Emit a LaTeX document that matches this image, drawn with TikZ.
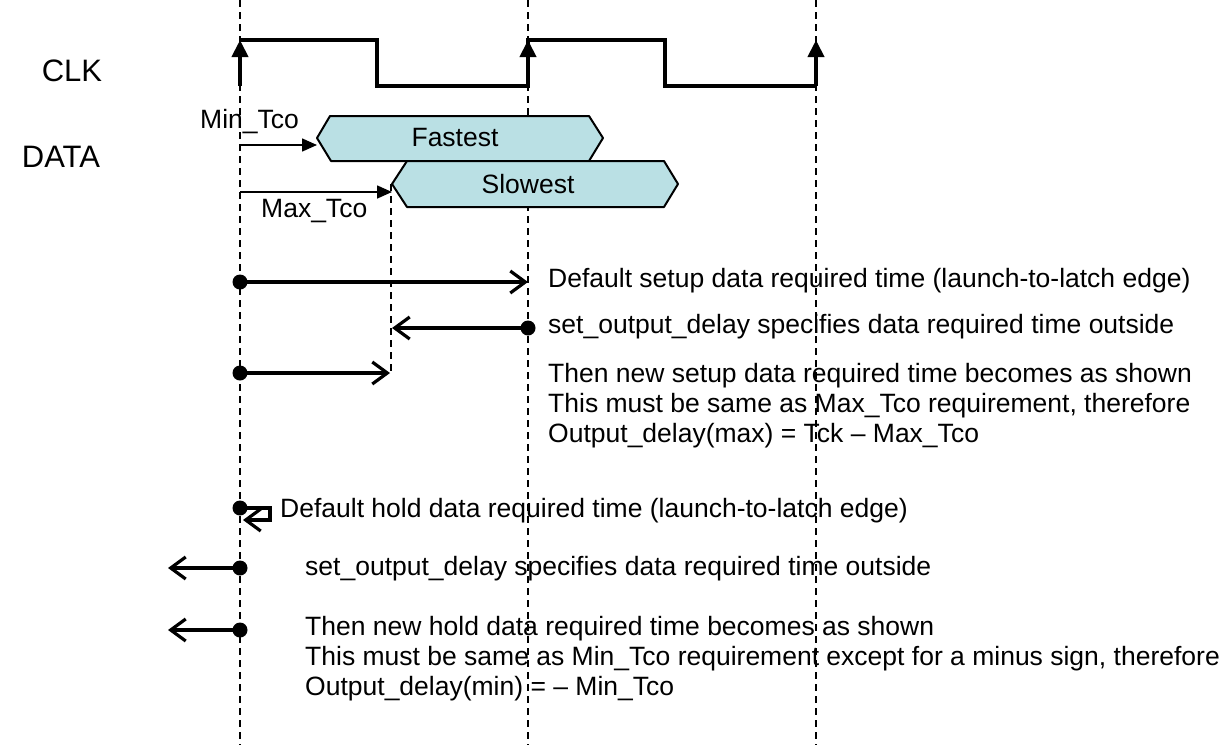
\documentclass[tikz,border=0pt]{standalone}
\usepackage{fontspec}
\setmainfont{Liberation Sans}
\usetikzlibrary{arrows.meta}

\definecolor{hexfill}{RGB}{186,224,228}

\begin{document}
\begin{tikzpicture}[x=1pt,y=-1pt,
  txt/.style={inner sep=0pt,font=\fontsize{26.5}{30}\selectfont},
  big/.style={inner sep=0pt,font=\fontsize{31}{36}\selectfont},
  guide/.style={line width=1.5pt,dash pattern=on 7pt off 5pt},
  clk/.style={line width=4pt},
  edge/.style={line width=4pt,-{Triangle[length=17pt,width=16pt]}},
  tco/.style={line width=1.6pt,-{Triangle[length=15pt,width=13pt]}},
  req/.style={line width=3.2pt,-{Straight Barb[length=15pt,width=22pt]}},
  dot/.style={circle,fill,inner sep=0pt,minimum size=15pt},
  hexa/.style={draw,fill=hexfill,line width=2pt,line join=round}]

\useasboundingbox (0,0) rectangle (1232,745);

% time grid
\draw[guide] (240,0) -- (240,745);
\draw[guide] (528,0) -- (528,745);
\draw[guide] (816,0) -- (816,745);
\draw[guide] (391,184) -- (391,373);

\node (clk) at (72,71) [big] {CLK};
\node (data) at (61,157) [big] {DATA};

\draw[clk] (240,40) -- (377,40) -- (377,86) -- (528,86) -- (528,40)
   -- (665,40) -- (665,86) -- (816,86);
\draw[edge] (240,86) -- (240,40);
\draw[edge] (528,86) -- (528,40);
\draw[edge] (816,86) -- (816,40);

\draw[hexa] (317,138) -- (330,116) -- (589,116) -- (603,138) -- (589,161) -- (331,161) -- cycle;
\draw[hexa] (392,184) -- (407,161) -- (664,161) -- (678,184) -- (664,207) -- (407,207) -- cycle;
\node (fast) at (455,138) [txt] {Fastest};
\node (slow) at (528,184) [txt] {Slowest};

\coordinate (minA) at (240,145);
\coordinate (minB) at (317,145);
\coordinate (maxA) at (240,192);
\coordinate (maxB) at (392,192);
\draw[tco] (minA) -- (minB);
\draw[tco] (maxA) -- (maxB);
\node (minl) at (200,122) [txt,anchor=west] {Min\_Tco};
\node (maxl) at (261,211) [txt,anchor=west] {Max\_Tco};

% setup
\node (s1) at (240,282) [dot] {};
\node (s2) at (528,328) [dot] {};
\node (s3) at (240,373) [dot] {};
\coordinate (s1e) at (528,282);
\coordinate (s2e) at (392,328);
\coordinate (s3e) at (390,373);
\draw[req] (s1.center) -- (s1e);
\draw[req] (s2.center) -- (s2e);
\draw[req] (s3.center) -- (s3e);

\node (setA) at (548,281) [txt,anchor=west] {Default setup data required time (launch-to-latch edge)};
\node (setB) at (548,327) [txt,anchor=west] {set\_output\_delay specifies data required time outside};
\node (setC) at (548,406) [txt,anchor=west,align=left] {Then new setup data required time becomes as shown\\
  This must be same as Max\_Tco requirement, therefore\\
  Output\_delay(max) = Tck – Max\_Tco};

% hold
\node (h1) at (240,508) [dot] {};
\node (h2) at (240,568) [dot] {};
\node (h3) at (240,630) [dot] {};
\coordinate (h1a) at (270,508);
\coordinate (h1b) at (270,520);
\coordinate (h1e) at (243,520);
\coordinate (h2e) at (168,568);
\coordinate (h3e) at (168,630);
\draw[req] (h1.center) -- (h1a) -- (h1b) -- (h1e);
\draw[req] (h2.center) -- (h2e);
\draw[req] (h3.center) -- (h3e);

\node (holdA) at (280,511) [txt,anchor=west] {Default hold data required time (launch-to-latch edge)};
\node (holdB) at (305,569) [txt,anchor=west] {set\_output\_delay specifies data required time outside};
\node (holdC) at (305,659) [txt,anchor=west,align=left] {Then new hold data required time becomes as shown\\
  This must be same as Min\_Tco requirement except for a minus sign, therefore\\
  Output\_delay(min) = – Min\_Tco};
\end{tikzpicture}
\end{document}
